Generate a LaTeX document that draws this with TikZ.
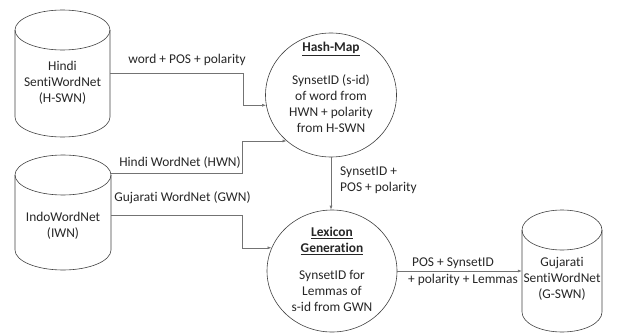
\documentclass[tikz,border=0pt]{standalone}
\usepackage{fontspec}
\setmainfont{Carlito}[Ligatures={NoCommon}]
\usetikzlibrary{arrows.meta,shapes.geometric,calc}
\begin{document}
\begin{tikzpicture}[x=1pt,y=-1pt,
  every node/.style={font=\fontsize{13.4}{16}\selectfont, text=black!85},
  cyl/.style={draw=black!75, line width=0.6pt},
  body/.style={inner sep=0pt, minimum height=10pt, align=center},
  proc/.style={ellipse, draw=black!75, line width=0.6pt, inner sep=0pt, minimum width=131pt, minimum height=124pt},
  conn/.style={draw=black!55, line width=0.6pt, -{Latex[length=4pt,width=3pt]}},
  lbl/.style={inner sep=0pt, align=center}]
\useasboundingbox (0,0) rectangle (621,332);

% H-SWN cylinder
\draw[cyl] (62.5,30) ellipse[x radius=47.5, y radius=20];
\draw[cyl] (15,30) -- (15,117) arc[start angle=180, end angle=360, x radius=47.5, y radius=-20] -- (110,30);
\node[body, minimum width=95pt] (hs) at (62.5,83) {Hindi\\SentiWordNet\\(H-SWN)};

% IWN cylinder
\draw[cyl] (63,175) ellipse[x radius=48, y radius=20];
\draw[cyl] (15,175) -- (15,250) arc[start angle=180, end angle=360, x radius=48, y radius=-20] -- (111,175);
\node[body, minimum width=96pt] (iw) at (63,226) {IndoWordNet\\(IWN)};

% G-SWN cylinder
\draw[cyl] (562,230) ellipse[x radius=40, y radius=20];
\draw[cyl] (522,230) -- (522,312) arc[start angle=180, end angle=360, x radius=40, y radius=-20] -- (602,230);
\node[body, minimum width=80pt] (gs) at (562,279) {Gujarati\\SentiWordNet\\(G-SWN)};

% Processes
\node[proc] (hm) at (331,95) {};
\node[lbl] (hmt) at (331,49) {\underline{\textbf{Hash-Map}}};
\node[lbl] (hmb) at (331,103.5) {SynsetID (s-id)\\of word from\\HWN + polarity\\from H-SWN};

\node[proc, minimum width=130pt, minimum height=122pt] (lg) at (332,271) {};
\node[lbl] (lgt) at (332,241) {\underline{\textbf{Lexicon}}\\\underline{\textbf{Generation}}};
\node[lbl] (lgb) at (332,291) {SynsetID for\\Lemmas of\\s-id from GWN};

% Connectors
\coordinate (b1) at (243,73);
\draw[conn] (hs.east |- b1) -- (b1) |- (hm.189.7);
\node[lbl] (l1) at (187,60) {word + POS + polarity};

\coordinate (b2) at (242,173);
\draw[conn] (iw.east |- b2) -- (b2) |- (hm.226.3);
\node[lbl] (l2) at (180,163) {Hindi WordNet (HWN)};

\coordinate (b3) at (242,215);
\draw[conn] (iw.east |- b3) -- (b3) |- (lg.159);
\node[lbl] (l3) at (182.5,198) {Gujarati WordNet (GWN)};

\draw[conn] (hm.south) -- (hm.south |- lg.north);
\node[lbl, align=left, anchor=west] (l4) at (340,180.5) {SynsetID +\\POS + polarity};

\draw[conn] (lg.east) -- (lg.east -| gs.west);
\node[lbl] (l5a) at (453,263) {POS + SynsetID};
\node[lbl] (l5b) at (463,280) {+ polarity + Lemmas};
\end{tikzpicture}
\end{document}
